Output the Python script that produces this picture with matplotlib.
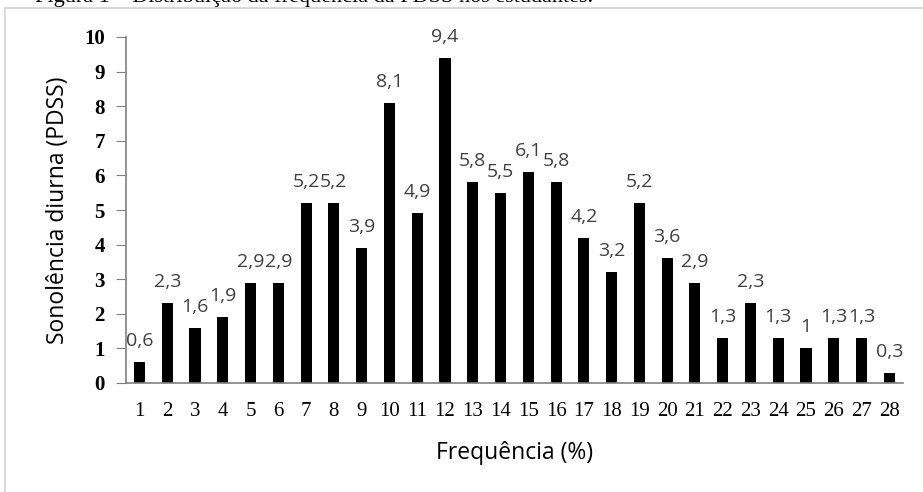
import matplotlib.pyplot as plt
from matplotlib.patches import Rectangle

# data
categories = [str(i) for i in range(1, 29)]
values = [0.6, 2.3, 1.6, 1.9, 2.9, 2.9, 5.2, 5.2, 3.9, 8.1, 4.9, 9.4, 5.8, 5.5,
          6.1, 5.8, 4.2, 3.2, 5.2, 3.6, 2.9, 1.3, 2.3, 1.3, 1.0, 1.3, 1.3, 0.3]
labels = [('%g' % v).replace('.', ',') for v in values]

W, H = 923, 492
fig = plt.figure(figsize=(W / 100, H / 100), dpi=100)

# caption that is cut off at the top of the image (only its lower edge shows)
fig.text(35 / W, 1 - 2 / H, 'Figura 1 – Distribuição da frequência da PDSS nos estudantes.',
         fontsize=16, family='Liberation Serif', va='baseline', ha='left')

# light grey frame around the chart area
fig.patches.append(Rectangle((5 / W, -0.1), 1.2, 1 - 8 / H + 0.1, transform=fig.transFigure,
                             fill=False, edgecolor='#d9d9d9', linewidth=1.5))

ax = fig.add_axes([125.6 / W, 109 / H, (903.2 - 125.6) / W, (383 - 37) / H])
x = list(range(len(values)))
ax.bar(x, values, width=0.4, color='black')

for xi, v, lab in zip(x, values, labels):
    ax.text(xi, v + 0.35, lab, ha='center', va='bottom', fontsize=14,
            color='#404040', family='Open Sans')

ax.set_xlim(-0.5, len(values) - 0.5)
ax.set_ylim(0, 10)
ax.set_xticks(x)
ax.set_xticklabels(categories, family='Liberation Serif', fontsize=15)
ax.set_yticks(range(0, 11))
ax.set_yticklabels([str(i) for i in range(0, 11)], family='Liberation Serif',
                   fontsize=15, fontweight='bold')
ax.tick_params(axis='x', length=0, pad=14)
ax.tick_params(axis='y', length=7, color='#808080', pad=8)

for s in ['top', 'right']:
    ax.spines[s].set_visible(False)
for s in ['left', 'bottom']:
    ax.spines[s].set_color('#808080')
    ax.spines[s].set_linewidth(1.2)

ax.set_xlabel('Frequência (%)', family='Open Sans', fontsize=16.5, labelpad=14)
ax.set_ylabel('Sonolência diurna (PDSS)', family='Open Sans', fontsize=16.5, labelpad=10)

fig.savefig('out.png', dpi=100)
